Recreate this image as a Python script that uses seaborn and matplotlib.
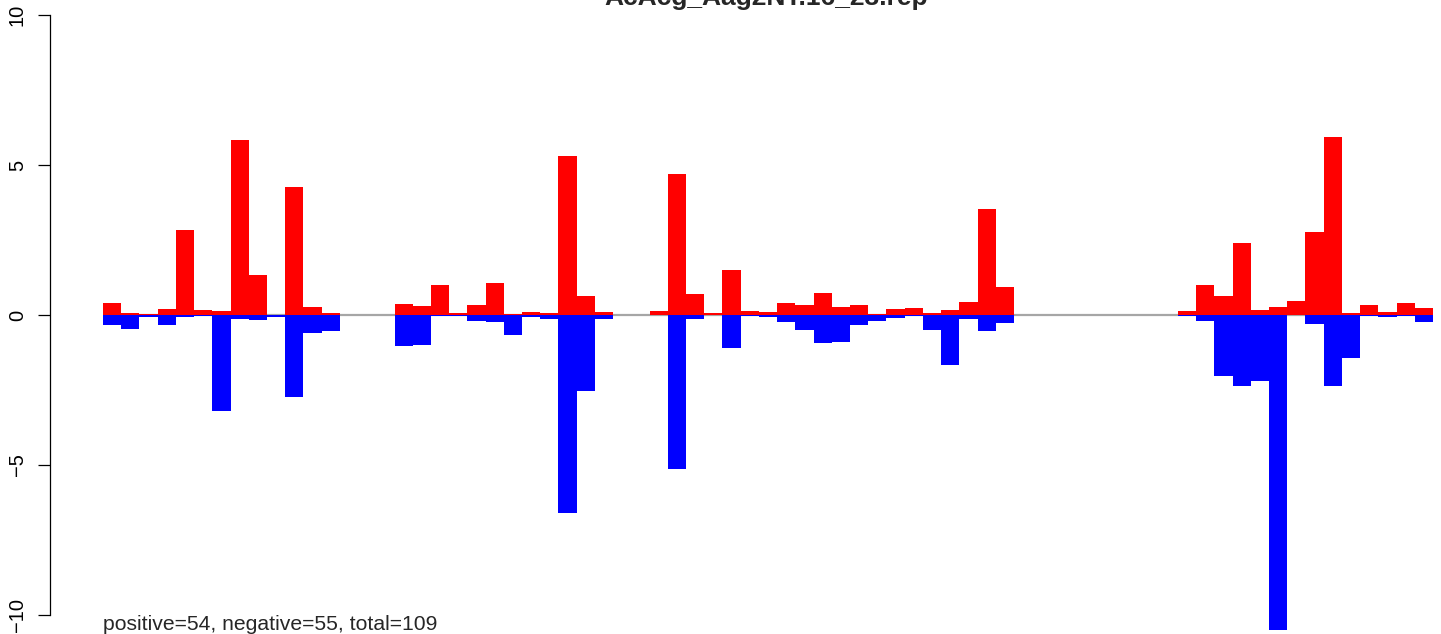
import pandas as pd
import matplotlib
matplotlib.use('Agg')
import matplotlib.pyplot as plt
import seaborn as sns

title = 'AcAcg_Aag2NT.16_23.rep'
summary = 'positive=54, negative=55, total=109'

# one value per bin along the sequence (73 bins, empty bins are 0)
pos_vals = [0.40, 0.07, 0.03, 0.20, 2.83, 0.17, 0.13, 5.83, 1.33, 0.00,
            4.27, 0.27, 0.07, 0.00, 0.00, 0.00, 0.37, 0.30, 1.00, 0.07,
            0.33, 1.07, 0.03, 0.10, 0.07, 5.30, 0.63, 0.10, 0.00, 0.00,
            0.13, 4.70, 0.70, 0.07, 1.50, 0.13, 0.10, 0.40, 0.33, 0.73,
            0.27, 0.33, 0.03, 0.20, 0.23, 0.07, 0.17, 0.43, 3.53, 0.93,
            0.00, 0.00, 0.00, 0.00, 0.00, 0.00, 0.00, 0.00, 0.00, 0.13,
            1.00, 0.63, 2.40, 0.17, 0.27, 0.47, 2.77, 5.93, 0.07, 0.33,
            0.10, 0.40, 0.23]
neg_vals = [-0.33, -0.47, -0.05, -0.33, -0.07, -0.03, -3.20, -0.13, -0.17, -0.05,
            -2.73, -0.60, -0.53, 0.00, 0.00, 0.00, -1.03, -1.00, -0.02, -0.03,
            -0.20, -0.23, -0.67, -0.07, -0.13, -6.60, -2.53, -0.13, 0.00, 0.00,
            0.00, -5.13, -0.13, 0.00, -1.10, -0.02, -0.07, -0.23, -0.50, -0.93,
            -0.90, -0.33, -0.20, -0.10, -0.02, -0.50, -1.67, -0.13, -0.53, -0.27,
            0.00, 0.00, 0.00, 0.00, 0.00, 0.00, 0.00, 0.00, 0.00, -0.03,
            -0.20, -2.03, -2.37, -2.20, -10.50, 0.00, -0.30, -2.37, -1.43, -0.03,
            -0.07, -0.02, -0.23]
y_ticks = [-10, -5, 0, 5, 10]

n = len(pos_vals)
df = pd.DataFrame({'bin': list(range(n)), 'pos': pos_vals, 'neg': neg_vals})

sns.set_style('white')
plt.rcParams['font.family'] = ['Liberation Sans', 'DejaVu Sans']

fig = plt.figure(figsize=(14.41, 6.34), dpi=100)
ax = fig.add_axes([50 / 1441, 0, 1 - 50 / 1441, 1])

# zero line behind the bars
ax.hlines(0, -0.5, n - 0.5, color='#A6A6A6', lw=1.6, zorder=0.5)

sns.barplot(data=df, x='bin', y='pos', order=list(range(n)), color='#FF0000',
            saturation=1, width=1, linewidth=0, ax=ax)
sns.barplot(data=df, x='bin', y='neg', order=list(range(n)), color='#0000FF',
            saturation=1, width=1, linewidth=0, ax=ax)

bw = 1330 / n  # pixels per bin
ax.set_xlim(-0.5 - 53 / bw, n - 0.5 + 8 / bw)
ax.set_ylim(-319 / 30, 315 / 30)

for s in ['top', 'right', 'bottom']:
    ax.spines[s].set_visible(False)
ax.spines['left'].set_bounds(-10, 10)
ax.spines['left'].set_linewidth(0.9)
ax.spines['left'].set_color('black')
ax.set_xticks([])
ax.set_yticks(y_ticks)
ax.set_yticklabels([str(t).replace('-', '\u2212') for t in y_ticks])
ax.tick_params(axis='y', length=8.6, width=0.9, pad=8, labelsize=14.5,
               labelrotation=90, left=True, colors='black')
for lab in ax.get_yticklabels():
    lab.set_va('center')
ax.set_xlabel('')
ax.set_ylabel('')

ax.text(-0.5, -10.5, summary, fontsize=15.2, ha='left', va='baseline')
fig.text(766 / 1441, 1 - 5 / 634, title, fontsize=19, fontweight='bold',
         ha='center', va='baseline')

fig.savefig('out.png', dpi=100)
